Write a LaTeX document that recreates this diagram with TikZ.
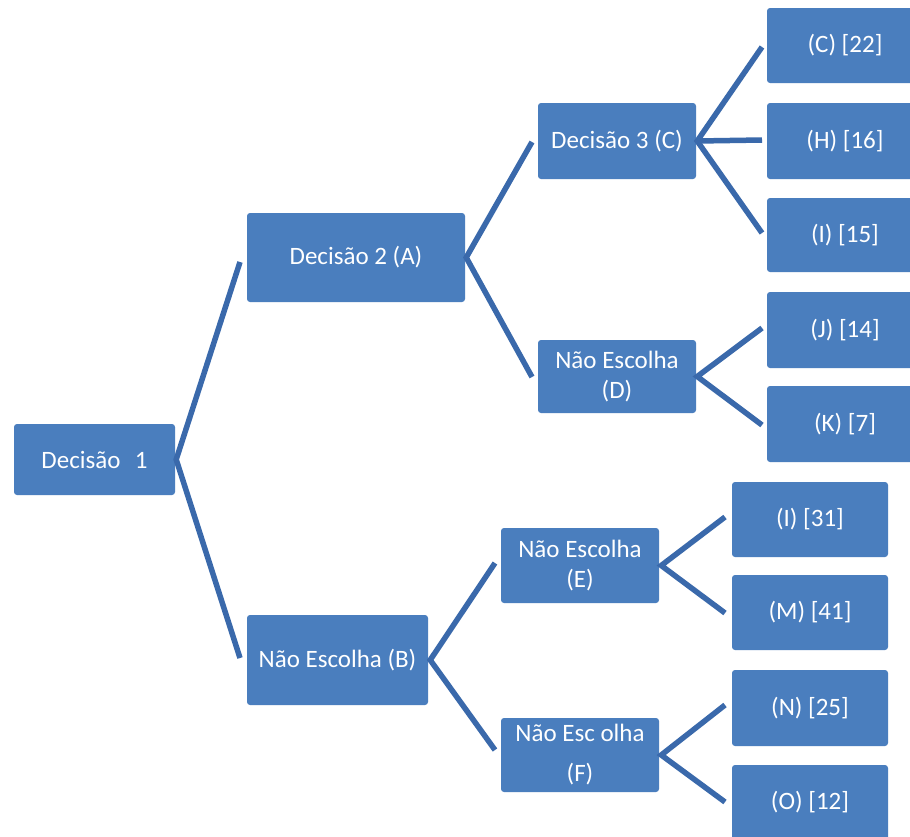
\documentclass[tikz,border=0pt]{standalone}
\usepackage{fontspec}
\setmainfont{Carlito}
\definecolor{boxblue}{HTML}{4A7EBE}
\definecolor{lineblue}{HTML}{3A69AB}
\begin{document}
\begin{tikzpicture}[x=1pt,y=-1pt,
  box/.style={fill=boxblue,draw=none,rounded corners=3pt,text=white,
    inner sep=0pt,align=center,font=\fontsize{25}{30}\selectfont},
  conn/.style={draw=lineblue,line width=5.5pt,line cap=butt,line join=miter}]
\clip (0,0) rectangle (910,836);
\fill[white] (0,0) rectangle (910,836);
% level nodes
\node[box,minimum width=161pt,minimum height=71pt] (d1) at (94.5,459.5) {Decisão\hspace{0.35em} 1};
\node[box,minimum width=218pt,minimum height=89pt] (a) at (356,257.5) {Decisão 2 (A)};
\node[box,minimum width=181pt,minimum height=90pt] (b) at (337.5,660) {Não Escolha (B)};
\node[box,minimum width=158pt,minimum height=76pt] (c) at (617,141) {Decisão 3 (C)};
\node[box,minimum width=158pt,minimum height=73pt] (d) at (617,376.5) {Não Escolha\\(D)};
\node[box,minimum width=158pt,minimum height=75pt] (e) at (580,565.5) {Não Escolha\\(E)};
\node[box,minimum width=158pt,minimum height=74pt] (f) at (580,755) {Não Esc olha\\[10pt](F)};
% leaves
\node[box,minimum width=156pt,minimum height=75pt] (lc) at (845,45.5) {(C) [22]};
\node[box,minimum width=156pt,minimum height=76pt] (lh) at (845,141) {(H) [16]};
\node[box,minimum width=156pt,minimum height=74pt] (li) at (845,235) {(I) [15]};
\node[box,minimum width=156pt,minimum height=76pt] (lj) at (845,330) {(J) [14]};
\node[box,minimum width=156pt,minimum height=76pt] (lk) at (845,424) {(K) [7]};
\node[box,minimum width=156pt,minimum height=75pt] (l31) at (810,519.5) {(I) [31]};
\node[box,minimum width=156pt,minimum height=75pt] (lm) at (810,612.5) {(M) [41]};
\node[box,minimum width=156pt,minimum height=76pt] (ln) at (810,708) {(N) [25]};
\node[box,minimum width=156pt,minimum height=75pt] (lo) at (810,802.5) {(O) [12]};
% connector free ends
\coordinate (d1u) at (240,262);
\coordinate (d1l) at (240,658);
\coordinate (au) at (532,142);
\coordinate (al) at (532,377);
\coordinate (cu) at (762,47);
\coordinate (cm) at (762,140);
\coordinate (cl) at (762,233);
\coordinate (du) at (762,328);
\coordinate (dl) at (762,425);
\coordinate (bu) at (495,563);
\coordinate (bl) at (495,750);
\coordinate (eu) at (725,517);
\coordinate (el) at (725,613);
\coordinate (fu) at (725,705);
\coordinate (fl) at (725,802);
% connectors
\draw[conn] (d1u) -- ([xshift=1pt]d1.east) -- (d1l);
\draw[conn] (au) -- ([xshift=1pt]a.east) -- (al);
\draw[conn] (cu) -- ([xshift=1pt]c.east) -- (cl);
\draw[conn] ([xshift=1pt]c.east) -- (cm);
\draw[conn] (du) -- ([xshift=1pt]d.east) -- (dl);
\draw[conn] (bu) -- ([xshift=2pt]b.east) -- (bl);
\draw[conn] (eu) -- ([xshift=2pt]e.east) -- (el);
\draw[conn] (fu) -- ([xshift=2pt]f.east) -- (fl);
\end{tikzpicture}
\end{document}
